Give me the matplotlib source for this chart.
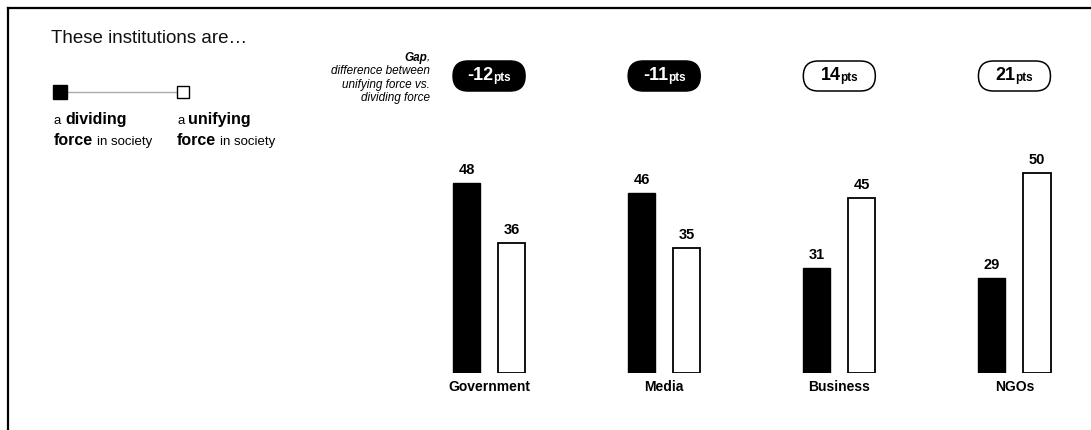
import numpy as np
import matplotlib
matplotlib.use('Agg')
import matplotlib.pyplot as plt
from matplotlib import transforms
from matplotlib.lines import Line2D
from matplotlib.patches import FancyBboxPatch
from matplotlib.offsetbox import TextArea, HPacker, AnnotationBbox

plt.rcParams['font.family'] = ['Liberation Sans', 'DejaVu Sans']

# data
categories = ['Government', 'Media', 'Business', 'NGOs']
dividing = np.array([48, 46, 31, 29])
unifying = np.array([36, 35, 45, 50])
gap = unifying - dividing
gap_note = ['difference between', 'unifying force vs.', 'dividing force']

W, H = 1091, 430


def fx(px):
    return px / W


def fy(py):
    return 1 - py / H


fig = plt.figure(figsize=(W / 100, H / 100), dpi=100)

# bar axes: baseline at 373px, 5px per point, floor at 10
base = 10
ax = fig.add_axes([fx(401.5), fy(373), 674.25 / W, 250 / H])
ax.set_xlim(-0.5, 3.35)
ax.set_ylim(base, 60)
ax.axis('off')

x = np.arange(len(categories))
bw = 0.155
off = 0.129
ax.bar(x - off, dividing - base, bottom=base, width=bw,
       color='black', edgecolor='black', linewidth=1)
ax.bar(x + off, unifying - base, bottom=base, width=bw,
       color='white', edgecolor='black', linewidth=1.3)

for i in range(len(categories)):
    ax.annotate(str(dividing[i]), (x[i] - off, dividing[i]), xytext=(0, 4),
                textcoords='offset points', ha='center', va='bottom',
                fontsize=10.5, fontweight='bold')
    ax.annotate(str(unifying[i]), (x[i] + off, unifying[i]), xytext=(0, 4),
                textcoords='offset points', ha='center', va='bottom',
                fontsize=10.5, fontweight='bold')
    ax.annotate(categories[i], (x[i], base), xytext=(0, -5),
                textcoords='offset points', ha='center', va='top',
                fontsize=10, fontweight='bold')

# gap pills
blend = transforms.blended_transform_factory(ax.transData, fig.transFigure)
pill_y = fy(76)
for i, g in enumerate(gap):
    neg = g < 0
    tr = fig.dpi_scale_trans + transforms.ScaledTranslation(x[i], pill_y, blend)
    pill = FancyBboxPatch((-0.36, -0.15), 0.72, 0.30,
                          boxstyle='round,pad=0,rounding_size=0.15',
                          facecolor='black' if neg else 'white',
                          edgecolor='black', linewidth=1.1, transform=tr)
    fig.add_artist(pill)
    col = 'white' if neg else 'black'
    num = TextArea(f'{g}', textprops=dict(fontsize=13, fontweight='bold', color=col))
    pts = TextArea('pts', textprops=dict(fontsize=8.5, fontweight='bold', color=col))
    pack = HPacker(children=[num, pts], align='baseline', pad=0, sep=0)
    ab = AnnotationBbox(pack, (x[i], pill_y), xycoords=blend,
                        box_alignment=(0.5, 0.5), frameon=False)
    fig.add_artist(ab)

# gap explanation
comma = fig.text(fx(430), fy(61), ',', ha='right', va='baseline',
                 fontsize=8.5, style='italic')
plt.annotate('Gap', xy=(0, fy(61)), xycoords=(comma, 'figure fraction'),
             ha='right', va='baseline', fontsize=8.5, style='italic',
             fontweight='bold', annotation_clip=False)
for k, line in enumerate(gap_note):
    fig.text(fx(430), fy(74.5 + 13.5 * k), line, ha='right', va='baseline',
             fontsize=8.5, style='italic')

# title
fig.text(fx(51), fy(43), 'These institutions are\u2026', fontsize=13.5,
         va='baseline', color='#111111')

# legend
fig.add_artist(Line2D([fx(60), fx(183)], [fy(92), fy(92)], color='#aaaaaa', lw=1))
fig.add_artist(Line2D([fx(60)], [fy(92)], marker='s', markersize=9.5,
                      markerfacecolor='black', markeredgecolor='black'))
fig.add_artist(Line2D([fx(183)], [fy(92)], marker='s', markersize=9,
                      markerfacecolor='white', markeredgecolor='black', markeredgewidth=1))


def legend_label(px, word):
    t1 = fig.text(fx(px), fy(124), 'a', fontsize=9.5, va='baseline')
    plt.annotate(word, xy=(1, fy(124)), xycoords=(t1, 'figure fraction'),
                 xytext=(3, 0), textcoords='offset points', va='baseline',
                 fontsize=11.5, fontweight='bold', annotation_clip=False)
    t2 = fig.text(fx(px), fy(145), 'force', fontsize=11.5, fontweight='bold',
                  va='baseline')
    plt.annotate('in society', xy=(1, fy(145)), xycoords=(t2, 'figure fraction'),
                 xytext=(3, 0), textcoords='offset points', va='baseline',
                 fontsize=9.5, annotation_clip=False)


legend_label(54, 'dividing')
legend_label(177, 'unifying')

# frame
fig.add_artist(Line2D([fx(8), 1], [fy(8), fy(8)], color='black', lw=1.6))
fig.add_artist(Line2D([fx(8), fx(8)], [fy(8), 0], color='black', lw=1.6))

fig.savefig('out.png', dpi=100)
